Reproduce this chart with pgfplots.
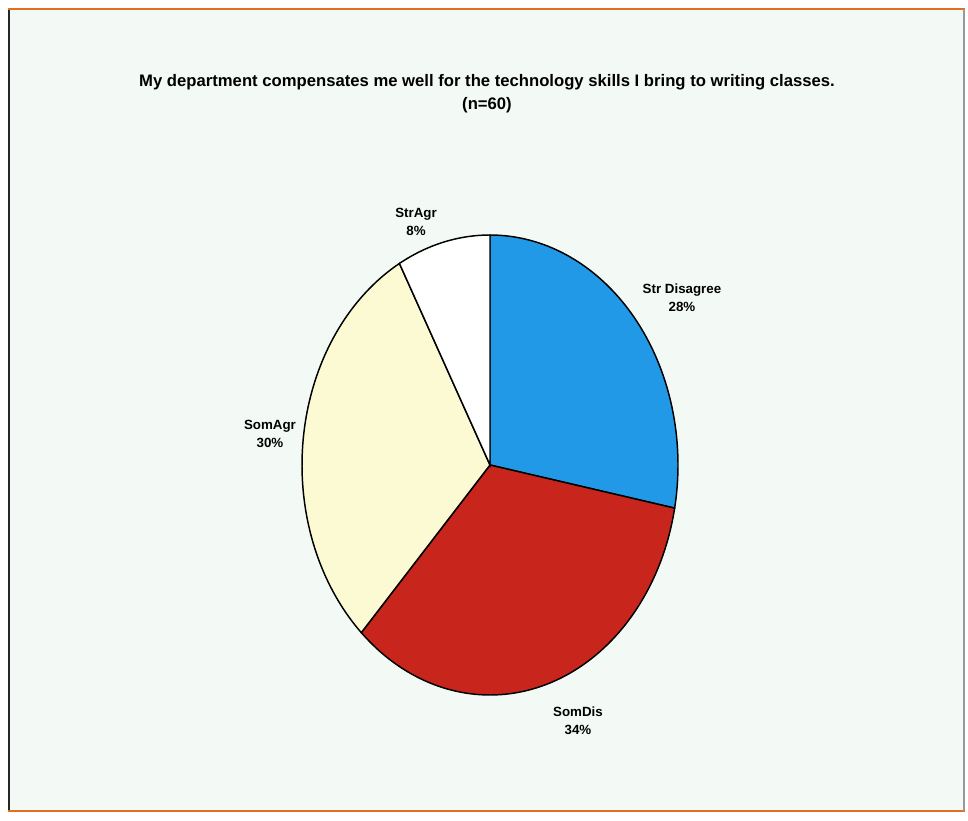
\documentclass[border=0pt]{standalone}
\usepackage{pgfplots}
\pgfplotsset{compat=1.18}
\usepackage{fontspec}
\setmainfont{Liberation Sans}
\definecolor{bg}{HTML}{F3FAF6}
\definecolor{cblue}{HTML}{2299E6}
\definecolor{cred}{HTML}{C8261C}
\definecolor{cyel}{HTML}{FCFAD2}
\definecolor{cwhite}{HTML}{FFFFFF}
\definecolor{frameor}{HTML}{E0701E}
\begin{document}
\begin{tikzpicture}
\begin{axis}[scale only axis, width=726pt, height=615.75pt,
  xmin=0, xmax=968, ymin=0, ymax=821, y dir=reverse,
  hide axis, clip=false]
% whole canvas
\path[fill=white] (axis cs:0,0) rectangle (axis cs:968,821);
% background panel
\fill[bg] (axis cs:9,10) rectangle (axis cs:964,810);
\draw[black!85, line width=2.2pt] (axis cs:9,812) -- (axis cs:9,10);
\draw[frameor, line width=1.8pt] (axis cs:8,9) -- (axis cs:965,9);
\draw[frameor, line width=1.8pt] (axis cs:8,811) -- (axis cs:965,811);
\draw[black!40, line width=1pt] (axis cs:964,9) -- (axis cs:964,811);
% pie: shares (%) Str Disagree 28, SomDis 34, SomAgr 30, StrAgr 8; clockwise from top
\addplot[fill=cblue, draw=black, line width=1.1pt, domain={90-3.6*28}:{90}, samples=80]
  ({490+188*cos(x)},{465-230*sin(x)}) -- (axis cs:490,465) -- cycle;
\addplot[fill=cred, draw=black, line width=1.1pt, domain={90-3.6*(28+34)}:{90-3.6*28}, samples=80]
  ({490+188*cos(x)},{465-230*sin(x)}) -- (axis cs:490,465) -- cycle;
\addplot[fill=cyel, draw=black, line width=1.1pt, domain={90-3.6*(28+34+30)}:{90-3.6*(28+34)}, samples=80]
  ({490+188*cos(x)},{465-230*sin(x)}) -- (axis cs:490,465) -- cycle;
\addplot[fill=cwhite, draw=black, line width=1.1pt, domain={90-3.6*(28+34+30+8)}:{90-3.6*(28+34+30)}, samples=40]
  ({490+188*cos(x)},{465-230*sin(x)}) -- (axis cs:490,465) -- cycle;
% title
\node[align=center, font=\bfseries\fontsize{12.5}{17.25}\selectfont] at (axis cs:487,94)
  {My department compensates me well for the technology skills I bring to writing classes.\\(n=60)};
% labels
\tikzset{lbl/.style={align=center, font=\bfseries\fontsize{10}{13.5}\selectfont}}
\node[lbl] at (axis cs:682,298) {Str Disagree\\28\%};
\node[lbl] at (axis cs:578,721) {SomDis\\34\%};
\node[lbl] at (axis cs:270,434) {SomAgr\\30\%};
\node[lbl] at (axis cs:416,222) {StrAgr\\8\%};
\end{axis}
\end{tikzpicture}
\end{document}
